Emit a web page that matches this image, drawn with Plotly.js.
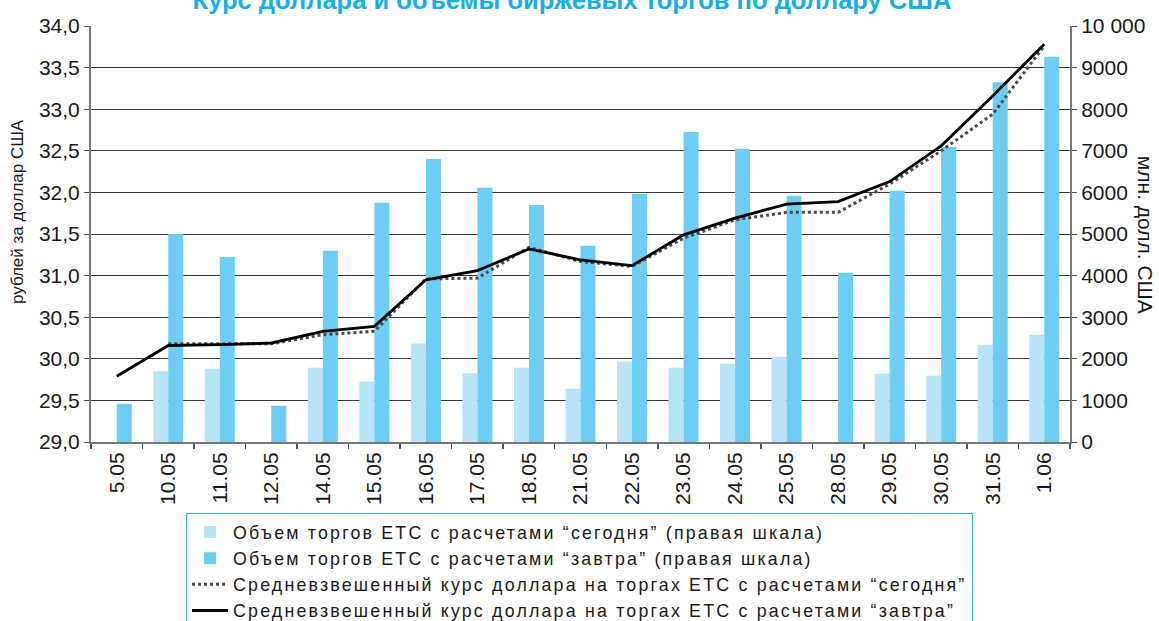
<!DOCTYPE html>
<html>
<head>
<meta charset="utf-8">
<script src="https://cdn.plot.ly/plotly-3.0.1.min.js"></script>
<style>
html,body{margin:0;padding:0;background:#fff;}
#chart{width:1159px;height:621px;}
.legendtext{letter-spacing:2.2px;}
</style>
</head>
<body>
<div id="chart"></div>
<script>
const categories = ['5.05','10.05','11.05','12.05','14.05','15.05','16.05','17.05','18.05','21.05','22.05','23.05','24.05','25.05','28.05','29.05','30.05','31.05','1.06'];
const volumeToday = [null,1700,1760,null,1785,1450,2370,1650,1785,1280,1930,1785,1880,2050,null,1640,1590,2340,2580];
const volumeTomorrow = [920,5000,4450,870,4600,5750,6800,6110,5700,4720,5970,7450,7050,5920,4070,6040,7090,8650,9260];
const rateToday = [null,30.18,30.18,30.18,30.29,30.33,30.96,30.97,31.34,31.17,31.11,31.45,31.67,31.76,31.76,32.10,32.50,32.94,33.76];
const rateTomorrow = [29.79,30.16,30.17,30.19,30.33,30.39,30.95,31.06,31.32,31.19,31.12,31.49,31.69,31.86,31.89,32.13,32.56,33.16,33.78];
const volumeTickVals = [0,1000,2000,3000,4000,5000,6000,7000,8000,9000,10000];
const volumeTickText = ['0','1000','2000','3000','4000','5000','6000','7000','8000','9000','10 000'];
const seriesNames = [
  'Объем торгов ЕТС с расчетами “сегодня” (правая шкала)',
  'Объем торгов ЕТС с расчетами “завтра” (правая шкала)',
  'Средневзвешенный курс доллара на торгах ЕТС с расчетами “сегодня”',
  'Средневзвешенный курс доллара на торгах ЕТС с расчетами “завтра”'
];

const FONT = 'Liberation Sans, Arial, Helvetica, sans-serif';

const traces = [
  {type:'bar', x:categories, y:volumeToday, name:seriesNames[0], marker:{color:'#b8e4f8'}, yaxis:'y', xaxis:'x'},
  {type:'bar', x:categories, y:volumeTomorrow, name:seriesNames[1], marker:{color:'#6dcef5'}, yaxis:'y', xaxis:'x'},
  {type:'scatter', mode:'lines', x:categories, y:rateToday, name:seriesNames[2], line:{color:'#4a4a4a', width:3, dash:'dot'}, yaxis:'y2', xaxis:'x'},
  {type:'scatter', mode:'lines', x:categories, y:rateTomorrow, name:seriesNames[3], line:{color:'#000000', width:2.8}, yaxis:'y2', xaxis:'x'}
];

const layout = {
  width:1159, height:621,
  paper_bgcolor:'#ffffff', plot_bgcolor:'#ffffff',
  margin:{l:91, r:89, t:26, b:179, pad:0, autoexpand:false},
  separators:', ',
  font:{family:FONT, size:21, color:'#1a1a1a'},
  title:{text:'Курс доллара и объемы биржевых торгов по доллару США', font:{family:FONT, size:25.5, color:'#16aee8', weight:'bold'}, xref:'container', yref:'container', x:0.4935, y:1, xanchor:'center', yanchor:'middle'},
  barmode:'group', bargap:0.418, bargroupgap:0,
  showlegend:true,
  legend:{xref:'container', yref:'container', x:0.1605, y:0.1739, xanchor:'left', yanchor:'top', bordercolor:'#2bb5ea', borderwidth:1, bgcolor:'#ffffff', font:{family:FONT, size:17.8, color:'#1a1a1a'}, tracegroupgap:0, itemwidth:36, traceorder:'normal'},
  xaxis:{type:'category', tickson:'boundaries', ticks:'outside', ticklen:5, tickcolor:'#555', tickwidth:1.5, showline:true, linecolor:'#777', linewidth:2, tickangle:-90, tickfont:{family:FONT, size:21, color:'#1a1a1a'}, showgrid:false, fixedrange:true},
  yaxis:{side:'right', range:[0,10000], tickvals:volumeTickVals, ticktext:volumeTickText, ticks:'outside', ticklen:5, tickcolor:'#555', showline:true, linecolor:'#777', linewidth:2, showgrid:true, gridcolor:'#3a3a3a', gridwidth:1, zeroline:false, tickfont:{family:FONT, size:21, color:'#1a1a1a'}, fixedrange:true},
  yaxis2:{side:'left', overlaying:'y', range:[29,34], dtick:0.5, tick0:29, tickformat:'.1f', ticks:'outside', ticklen:5, tickcolor:'#555', showline:true, linecolor:'#777', linewidth:2, showgrid:false, zeroline:false, tickfont:{family:FONT, size:21, color:'#1a1a1a'}, fixedrange:true},
  annotations:[
    {text:'рублей за доллар США', textangle:-90, xref:'paper', yref:'paper', x:-0.0751, y:0.554, xanchor:'center', yanchor:'middle', showarrow:false, font:{family:FONT, size:17, color:'#1a1a1a'}},
    {text:'млн. долл. США', textangle:90, xref:'paper', yref:'paper', x:1.0766, y:0.498, xanchor:'center', yanchor:'middle', showarrow:false, font:{family:FONT, size:21, color:'#1a1a1a'}}
  ]
};

Plotly.newPlot('chart', traces, layout, {displayModeBar:false, staticPlot:true});
</script>
</body>
</html>
